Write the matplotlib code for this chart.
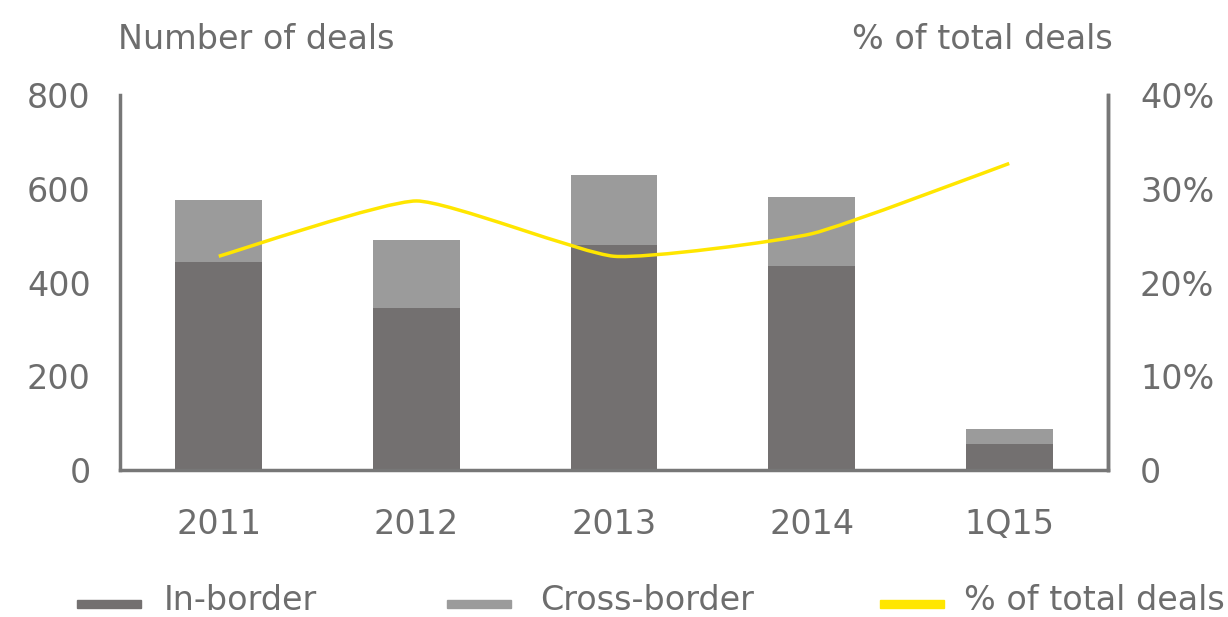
import numpy as np
import matplotlib.pyplot as plt
from matplotlib.path import Path
from matplotlib.patches import PathPatch, Rectangle

periods = ['2011', '2012', '2013', '2014', '1Q15']
in_border = [443, 345, 480, 435, 55]
cross_border = [133, 145, 149, 147, 32]
pct_total = [22.8, 28.7, 22.8, 25.2, 32.7]

dark = '#737070'
light = '#9b9b9b'
yellow = '#ffe600'
txt = '#6d6d6d'

plt.rcParams['font.family'] = ['DejaVu Sans']
fs = 24

fig = plt.figure(figsize=(12.28, 6.17), dpi=100)
ax = fig.add_axes([0.0977, 0.2382, 0.8046, 0.6078])
x = np.arange(len(periods))

ax.bar(x, in_border, width=0.44, color=dark, zorder=2)
ax.bar(x, cross_border, width=0.44, bottom=in_border, color=light, zorder=2)
ax.set_xlim(-0.5, 4.5)
ax.set_ylim(0, 800)
ax.set_yticks([0, 200, 400, 600, 800])
ax.set_xticks(x)
ax.set_xticklabels(periods)
ax.tick_params(length=0, labelsize=fs, colors=txt)
ax.tick_params(axis='y', pad=21)
ax.tick_params(axis='x', pad=27)

ax.spines['top'].set_visible(False)
for side in ['left', 'bottom', 'right']:
    ax.spines[side].set_color('#777777')
    ax.spines[side].set_linewidth(2.5)

# share of total deals on the right axis, lightly smoothed
ax2 = ax.twinx()
ax2.set_ylim(0, 40)
ax2.set_yticks([0, 10, 20, 30, 40])
ax2.set_yticklabels(['0', '10%', '20%', '30%', '40%'])
ax2.tick_params(length=0, labelsize=fs, colors=txt, pad=23)
for side in ['top', 'left', 'bottom']:
    ax2.spines[side].set_visible(False)
ax2.spines['right'].set_color('#777777')
ax2.spines['right'].set_linewidth(2.5)

px = np.array(x, dtype=float)
py = np.array(pct_total, dtype=float)
verts = [(px[0], py[0])]
codes = [Path.MOVETO]
t = 0.08
for i in range(len(px) - 1):
    p0 = (px[max(i - 1, 0)], py[max(i - 1, 0)])
    p1 = (px[i], py[i])
    p2 = (px[i + 1], py[i + 1])
    p3 = (px[min(i + 2, len(px) - 1)], py[min(i + 2, len(px) - 1)])
    c1 = (p1[0] + (p2[0] - p0[0]) * t, p1[1] + (p2[1] - p0[1]) * t)
    c2 = (p2[0] - (p3[0] - p1[0]) * t, p2[1] - (p3[1] - p1[1]) * t)
    verts += [c1, c2, p2]
    codes += [Path.CURVE4] * 3
ax2.add_patch(PathPatch(Path(verts, codes), fill=False, edgecolor=yellow,
                        linewidth=2.5, zorder=3))

fig.text(0.096, 0.936, 'Number of deals', fontsize=fs, color=txt, ha='left', va='center')
fig.text(0.906, 0.936, '% of total deals', fontsize=fs, color=txt, ha='right', va='center')

# legend row
legend_items = [('In-border', dark, 0.063, 0.133),
                ('Cross-border', light, 0.364, 0.44),
                ('% of total deals', yellow, 0.717, 0.785)]
for label, color, x0, tx in legend_items:
    fig.patches.append(Rectangle((x0, 0.014), 0.052, 0.013, transform=fig.transFigure,
                                 color=color, figure=fig))
    fig.text(tx, 0.027, label, fontsize=fs, color=txt, ha='left', va='center')

fig.savefig('out.png', dpi=100, facecolor='white')
